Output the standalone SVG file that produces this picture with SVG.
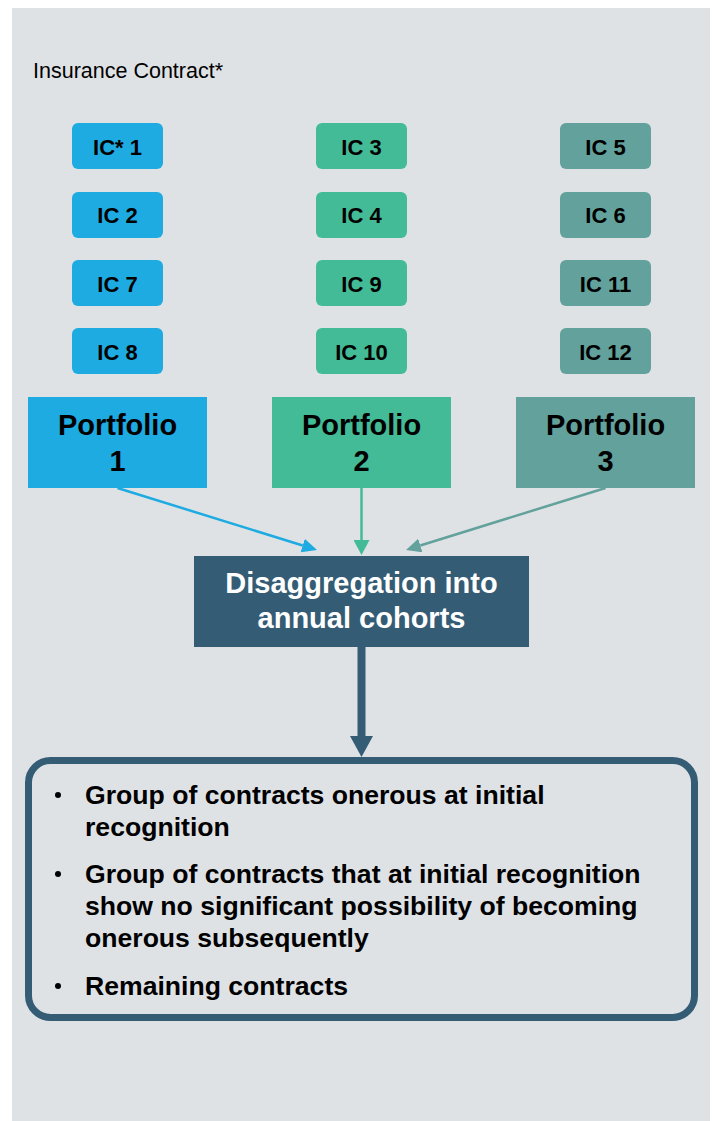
<svg xmlns="http://www.w3.org/2000/svg" width="713" height="1121" viewBox="0 0 713 1121">
<style>
.ic{font-family:"Liberation Sans",Arial,sans-serif;font-weight:bold;font-size:22px;fill:#000;text-anchor:middle}
.pf{font-family:"Liberation Sans",Arial,sans-serif;font-weight:bold;font-size:29px;fill:#000;text-anchor:middle}
.dg{font-family:"Liberation Sans",Arial,sans-serif;font-weight:bold;font-size:29px;fill:#fff;text-anchor:middle}
.bl{font-family:"Liberation Sans",Arial,sans-serif;font-weight:bold;font-size:26.6px;fill:#000}
.blue{fill:#1DABE2}.green{fill:#43BB96}.teal{fill:#62A19C}.navy{fill:#345C75}
</style>
<defs>
<marker id="hBlue" markerUnits="userSpaceOnUse" markerWidth="16" markerHeight="16" refX="0" refY="7" orient="auto"><path d="M0,0 L15,7 L0,14 z" fill="#1DABE2"/></marker>
<marker id="hGreen" markerUnits="userSpaceOnUse" markerWidth="16" markerHeight="16" refX="0" refY="8" orient="auto"><path d="M0,0 L15,8 L0,16 z" fill="#43BB96"/></marker>
<marker id="hTeal" markerUnits="userSpaceOnUse" markerWidth="16" markerHeight="16" refX="0" refY="7" orient="auto"><path d="M0,0 L15,7 L0,14 z" fill="#62A19C"/></marker>
</defs>
<rect x="12" y="8" width="698" height="1113" fill="#DFE2E5"/>
<text x="33" y="78" font-family="Liberation Sans, Arial, sans-serif" font-size="21.5" fill="#000">Insurance Contract*</text>

<g id="ic1"><rect x="72" y="123" width="91" height="46" rx="6" class="blue"/><text x="117.5" y="155" class="ic">IC* 1</text></g>
<g id="ic2"><rect x="72" y="192" width="91" height="46" rx="6" class="blue"/><text x="117.5" y="223" class="ic">IC 2</text></g>
<g id="ic7"><rect x="72" y="260" width="91" height="46" rx="6" class="blue"/><text x="117.5" y="292" class="ic">IC 7</text></g>
<g id="ic8"><rect x="72" y="328" width="91" height="46" rx="6" class="blue"/><text x="117.5" y="360" class="ic">IC 8</text></g>

<g id="ic3"><rect x="316" y="123" width="91" height="46" rx="6" class="green"/><text x="361.5" y="155" class="ic">IC 3</text></g>
<g id="ic4"><rect x="316" y="192" width="91" height="46" rx="6" class="green"/><text x="361.5" y="223" class="ic">IC 4</text></g>
<g id="ic9"><rect x="316" y="260" width="91" height="46" rx="6" class="green"/><text x="361.5" y="292" class="ic">IC 9</text></g>
<g id="ic10"><rect x="316" y="328" width="91" height="46" rx="6" class="green"/><text x="361.5" y="360" class="ic">IC 10</text></g>

<g id="ic5"><rect x="560" y="123" width="91" height="46" rx="6" class="teal"/><text x="605.5" y="155" class="ic">IC 5</text></g>
<g id="ic6"><rect x="560" y="192" width="91" height="46" rx="6" class="teal"/><text x="605.5" y="223" class="ic">IC 6</text></g>
<g id="ic11"><rect x="560" y="260" width="91" height="46" rx="6" class="teal"/><text x="605.5" y="292" class="ic">IC 11</text></g>
<g id="ic12"><rect x="560" y="328" width="91" height="46" rx="6" class="teal"/><text x="605.5" y="360" class="ic">IC 12</text></g>

<g id="portfolio1"><rect x="28" y="397" width="179" height="91" class="blue"/><text x="117.5" y="435" class="pf">Portfolio</text><text x="117.5" y="471" class="pf">1</text></g>
<g id="portfolio2"><rect x="272" y="397" width="179" height="91" class="green"/><text x="361.5" y="435" class="pf">Portfolio</text><text x="361.5" y="471" class="pf">2</text></g>
<g id="portfolio3"><rect x="516" y="397" width="179" height="91" class="teal"/><text x="605.5" y="435" class="pf">Portfolio</text><text x="605.5" y="471" class="pf">3</text></g>

<g id="cohorts"><rect x="194" y="556" width="335" height="91" class="navy"/><text x="361.5" y="593" class="dg">Disaggregation into</text><text x="361.5" y="628" class="dg">annual cohorts</text></g>

<g id="groups">
<rect x="28.5" y="760.5" width="666" height="257" rx="22" fill="none" stroke="#345C75" stroke-width="7"/>
<circle cx="58" cy="795" r="3" fill="#000"/>
<text x="85" y="804" class="bl">Group of contracts onerous at initial</text>
<text x="85" y="836" class="bl">recognition</text>
<circle cx="58" cy="874" r="3" fill="#000"/>
<text x="85" y="883" class="bl">Group of contracts that at initial recognition</text>
<text x="85" y="915" class="bl">show no significant possibility of becoming</text>
<text x="85" y="947" class="bl">onerous subsequently</text>
<circle cx="58" cy="986" r="3" fill="#000"/>
<text x="85" y="995" class="bl">Remaining contracts</text>
</g>

<g id="connectors">
<line x1="117.5" y1="488" x2="302.7" y2="545.5" stroke="#1DABE2" stroke-width="2.5" marker-end="url(#hBlue)"/>
<line x1="361.5" y1="488" x2="361.5" y2="540" stroke="#43BB96" stroke-width="2.5" marker-end="url(#hGreen)"/>
<line x1="605.5" y1="488" x2="420.3" y2="545.5" stroke="#62A19C" stroke-width="2.5" marker-end="url(#hTeal)"/>
<rect x="357.5" y="647" width="8" height="90" fill="#345C75"/>
<polygon points="350,736 373,736 361.5,757" fill="#345C75"/>
</g>
</svg>
